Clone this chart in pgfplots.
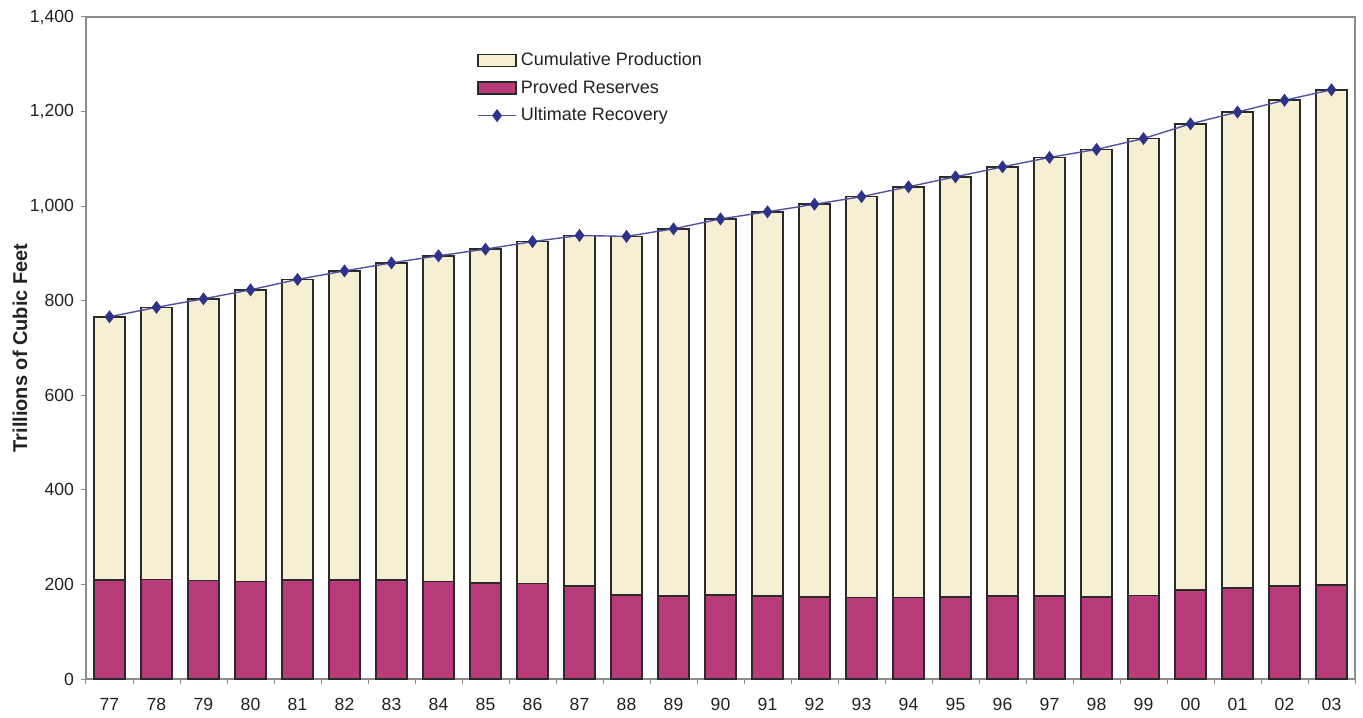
\documentclass[border=0pt]{standalone}
\usepackage{pgfplots}
\pgfplotsset{compat=1.18}
\usepackage{pgfplotstable}
\usepackage{fontspec}
\setmainfont{Liberation Sans}
\definecolor{cream}{HTML}{F7EFD3}
\definecolor{magent}{HTML}{B83C7A}
\definecolor{navy}{HTML}{2D3388}
\definecolor{navyline}{HTML}{5252A2}
\definecolor{axisgray}{HTML}{8C8C8C}
\definecolor{barline}{HTML}{2A2A2A}
\definecolor{labelcol}{HTML}{222222}

\pgfplotstableread{
idx reserves total
0 209 766
1 210 786
2 208 804
3 206 823
4 209 845
5 209 863
6 209 880
7 206 895
8 203 909
9 202 925
10 197 938
11 178 936
12 176 952
13 178 973
14 176 988
15 174 1004
16 172 1020
17 172 1041
18 174 1062
19 176 1083
20 176 1103
21 174 1120
22 177 1143
23 188 1174
24 193 1199
25 197 1224
26 199 1246
}\datatable

\pgfplotsset{
  mybarlegend/.style={legend image code/.code={\draw[##1] (0pt,-3pt) rectangle (19pt,3pt);}},
  mylinelegend/.style={legend image code/.code={\draw[mark repeat=2,mark phase=2,##1] plot coordinates {(0pt,0pt) (9.5pt,0pt) (19pt,0pt)};}},
}

\begin{document}
\begin{tikzpicture}
\useasboundingbox (-43pt,-19pt) rectangle (638.5pt,339.5pt);
\begin{axis}[
  at={(0,0)}, anchor=south west,
  scale only axis, width=634.5pt, height=331pt,
  xmin=-0.5, xmax=26.5, ymin=0, ymax=1400,
  xtick={0,...,26},
  xticklabels={77,78,79,80,81,82,83,84,85,86,87,88,89,90,91,92,93,94,95,96,97,98,99,00,01,02,03},
  major x tick style={draw=none},
  minor xtick={-0.5,0.5,...,26.5},
  ytick={0,200,...,1400},
  tick align=outside, tick pos=left,
  major tick length=2.5pt, minor tick length=2.5pt,
  tick style={axisgray, line width=0.5pt},
  axis line style={axisgray, line width=0.6pt},
  /pgf/number format/assume math mode=true,
  /pgf/number format/1000 sep={,},
  tick label style={font=\fontsize{8.8}{10}\selectfont, text=labelcol},
  x tick label style={yshift=-3.5pt},
  ylabel={Trillions of Cubic Feet},
  ylabel style={font=\fontsize{10}{12}\selectfont\bfseries, text=labelcol, at={(axis description cs:-0.052,0.5)}, anchor=center},
  legend style={at={(axis description cs:0.308,0.953)}, anchor=north west, draw=none, fill=none,
    font=\fontsize{9}{11}\selectfont, row sep=1.75pt, inner sep=0pt, text=labelcol},
  legend cell align=left,
]
\addplot[ybar, bar width=0.66, bar shift=0pt, fill=cream, draw=barline, line width=0.8pt, forget plot]
  table[x=idx, y=total]{\datatable};
\addplot[ybar, bar width=0.66, bar shift=0pt, fill=magent, draw=barline, line width=0.8pt, forget plot]
  table[x=idx, y=reserves]{\datatable};
\addlegendimage{mybarlegend, fill=cream, draw=barline, line width=0.8pt}
\addlegendentry{Cumulative Production}
\addlegendimage{mybarlegend, fill=magent, draw=barline, line width=0.8pt}
\addlegendentry{Proved Reserves}
\addplot[navyline, line width=0.7pt, mark=diamond*, mark size=2.7pt, mark options={fill=navy, draw=navy}, mylinelegend]
  table[x=idx, y=total]{\datatable};
\addlegendentry{Ultimate Recovery}
\end{axis}
\end{tikzpicture}
\end{document}
